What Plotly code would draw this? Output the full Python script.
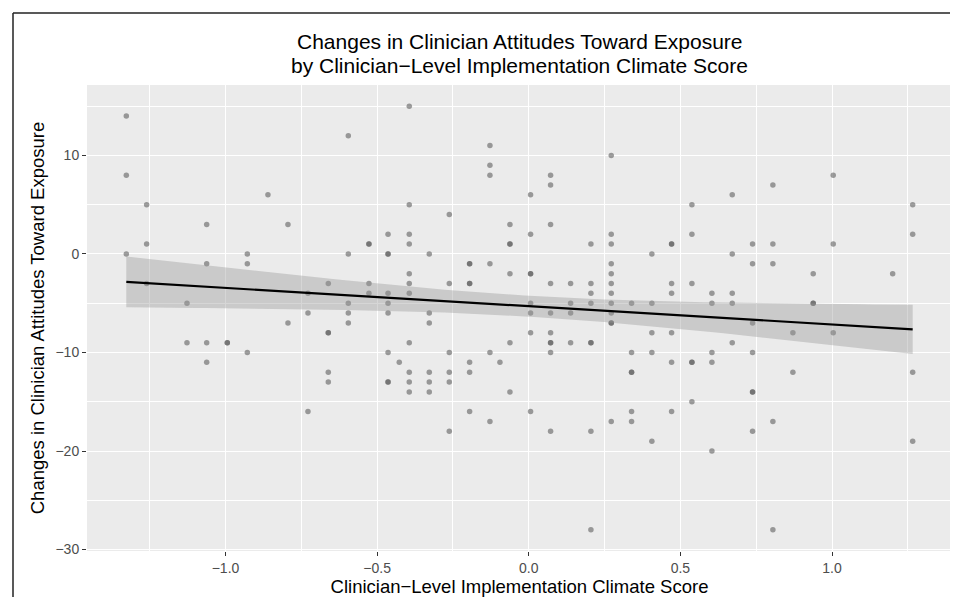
import numpy as np
import plotly.graph_objects as go

# Clinician-level implementation climate score (x) and change in attitudes (y), paired
climate_score = (
    [-1.327] * 3 + [-1.26] * 3 + [-1.127] * 2 + [-1.062] * 4 + [-0.994] * 2 + [-0.928] * 3
    + [-0.860] * 1 + [-0.794] * 2 + [-0.728] * 3 + [-0.661] * 5 + [-0.595] * 5 + [-0.527] * 4
    + [-0.464] * 9 + [-0.427] * 1 + [-0.394] * 11 + [-0.328] * 6 + [-0.262] * 6 + [-0.195] * 7
    + [-0.128] * 6 + [-0.095] * 1 + [-0.062] * 6 + [0.006] * 8 + [0.072] * 10 + [0.138] * 4
    + [0.205] * 8 + [0.272] * 12 + [0.339] * 6 + [0.406] * 5 + [0.471] * 7 + [0.538] * 6
    + [0.604] * 5 + [0.671] * 5 + [0.738] * 7 + [0.805] * 5 + [0.871] * 2 + [0.938] * 3
    + [1.004] * 3 + [1.2] * 1 + [1.266] * 4
)
attitude_change = [
    14, 8, 0,
    5, 1, -3,
    -5, -9,
    3, -1, -9, -11,
    -9, -9,
    0, -1, -10,
    6,
    3, -7,
    -4, -6, -16,
    -3, -8, -8, -12, -13,
    12, 0, -5, -6, -7,
    1, 1, -3, -4,
    2, 0, 0, -4, -5, -6, -10, -13, -13,
    -11,
    15, 5, 2, 1, -2, -3, -4, -9, -12, -13, -14,
    0, -6, -7, -12, -13, -14,
    4, -3, -10, -12, -13, -18,
    -1, -1, -3, -3, -11, -12, -16,
    11, 9, 8, -1, -10, -17,
    -11,
    3, 1, 1, -2, -9, -14,
    6, 2, -2, -2, -5, -6, -8, -16,
    8, 7, 3, -3, -6, -8, -9, -9, -10, -18,
    -3, -5, -6, -9,
    1, -3, -4, -5, -9, -9, -18, -28,
    10, 2, 1, -1, -2, -3, -4, -5, -6, -7, -7, -17,
    -5, -10, -12, -12, -16, -17,
    0, -5, -8, -10, -19,
    1, 1, -3, -4, -8, -11, -16,
    5, 2, -3, -11, -11, -15,
    -4, -5, -10, -11, -20,
    6, 0, -4, -5, -9,
    1, -1, -7, -10, -14, -14, -18,
    7, 1, -1, -17, -28,
    -8, -12,
    -2, -5, -5,
    8, 1, -8,
    -2,
    5, 2, -12, -19,
]

x_tick_vals = [-1.0, -0.5, 0.0, 0.5, 1.0]
x_tick_text = ["\u22121.0", "\u22120.5", "0.0", "0.5", "1.0"]
y_tick_vals = [-30, -20, -10, 0, 10]
y_tick_text = ["\u221230", "\u221220", "\u221210", "0", "10"]

title_lines = ["Changes in Clinician Attitudes Toward Exposure",
               "by Clinician\u2212Level Implementation Climate Score"]
x_title = "Clinician\u2212Level Implementation Climate Score"
y_title = "Changes in Clinician Attitudes Toward Exposure"

x = np.array(climate_score, dtype=float)
y = np.array(attitude_change, dtype=float)
n = len(x)

# linear fit with 95% confidence band (as geom_smooth(method = "lm"))
b1, b0 = np.polyfit(x, y, 1)
xs = np.linspace(x.min(), x.max(), 80)
yhat = b0 + b1 * xs
resid = y - (b0 + b1 * x)
s = np.sqrt(np.sum(resid ** 2) / (n - 2))
sxx = np.sum((x - x.mean()) ** 2)
se = s * np.sqrt(1.0 / n + (xs - x.mean()) ** 2 / sxx)
tq = 1.972
upper = yhat + tq * se
lower = yhat - tq * se

# ggplot-style 5% expansion
xr = [x.min() - 0.05 * (x.max() - x.min()), x.max() + 0.05 * (x.max() - x.min())]
yr = [y.min() - 0.05 * (y.max() - y.min()), y.max() + 0.05 * (y.max() - y.min())]

FONT = "Liberation Sans, Arial, Helvetica, sans-serif"

fig = go.Figure()
fig.add_trace(go.Scatter(
    x=x, y=y, mode="markers",
    marker=dict(size=5.5, color="rgba(95,95,95,0.6)", line=dict(width=0)),
    showlegend=False, hoverinfo="x+y",
))
fig.add_trace(go.Scatter(
    x=np.concatenate([xs, xs[::-1]]), y=np.concatenate([upper, lower[::-1]]),
    fill="toself", fillcolor="rgba(153,153,153,0.4)", line=dict(width=0),
    mode="lines", showlegend=False, hoverinfo="skip",
))
fig.add_trace(go.Scatter(
    x=xs, y=yhat, mode="lines", line=dict(color="black", width=2.2),
    showlegend=False, hoverinfo="skip",
))

L, R, T, B = 79, 14, 77, 54
W, H = 958, 597
pw, ph = W - L - R, H - T - B

def px_to_paper_y(py):
    return (H - B - py) / ph

def px_to_paper_x(pxv):
    return (pxv - L) / pw

annotations = []
for text, py in zip(title_lines, [33, 57]):
    annotations.append(dict(
        text=text, xref="paper", yref="paper", x=0.5, y=px_to_paper_y(py),
        xanchor="center", yanchor="middle", showarrow=False,
        font=dict(family=FONT, size=21, color="black"),
    ))

frame = [
    dict(type="line", xref="paper", yref="paper",
         x0=px_to_paper_x(5), x1=px_to_paper_x(5),
         y0=px_to_paper_y(600), y1=px_to_paper_y(5),
         line=dict(color="#222222", width=1.5)),
    dict(type="line", xref="paper", yref="paper",
         x0=px_to_paper_x(5), x1=px_to_paper_x(960),
         y0=px_to_paper_y(5), y1=px_to_paper_y(5),
         line=dict(color="#222222", width=1.5)),
]

fig.update_layout(
    width=W, height=H,
    margin=dict(l=L, r=R, t=T, b=B),
    paper_bgcolor="white", plot_bgcolor="#EBEBEB",
    font=dict(family=FONT),
    annotations=annotations,
    shapes=frame,
    xaxis=dict(
        range=xr, tickvals=x_tick_vals, ticktext=x_tick_text,
        showgrid=True, gridcolor="white", gridwidth=1.1, zeroline=False,
        ticks="outside", ticklen=4, tickcolor="#333333", tickwidth=1,
        tickfont=dict(size=14, color="#4D4D4D", family=FONT),
        minor=dict(tickvals=[-1.25, -0.75, -0.25, 0.25, 0.75, 1.25], showgrid=True,
                   gridcolor="white", gridwidth=0.5, ticks=""),
        title=dict(text=x_title, font=dict(size=18.5, color="black", family=FONT), standoff=4),
        showline=False, automargin=False,
    ),
    yaxis=dict(
        range=yr, tickvals=y_tick_vals, ticktext=y_tick_text,
        showgrid=True, gridcolor="white", gridwidth=1.1, zeroline=False,
        ticks="outside", ticklen=4, tickcolor="#333333", tickwidth=1,
        tickfont=dict(size=14, color="#4D4D4D", family=FONT),
        minor=dict(tickvals=[-25, -15, -5, 5, 15], showgrid=True,
                   gridcolor="white", gridwidth=0.5, ticks=""),
        title=dict(text=y_title, font=dict(size=18.5, color="black", family=FONT), standoff=5),
        showline=False, automargin=False,
    ),
)

fig.write_html("out.html")
